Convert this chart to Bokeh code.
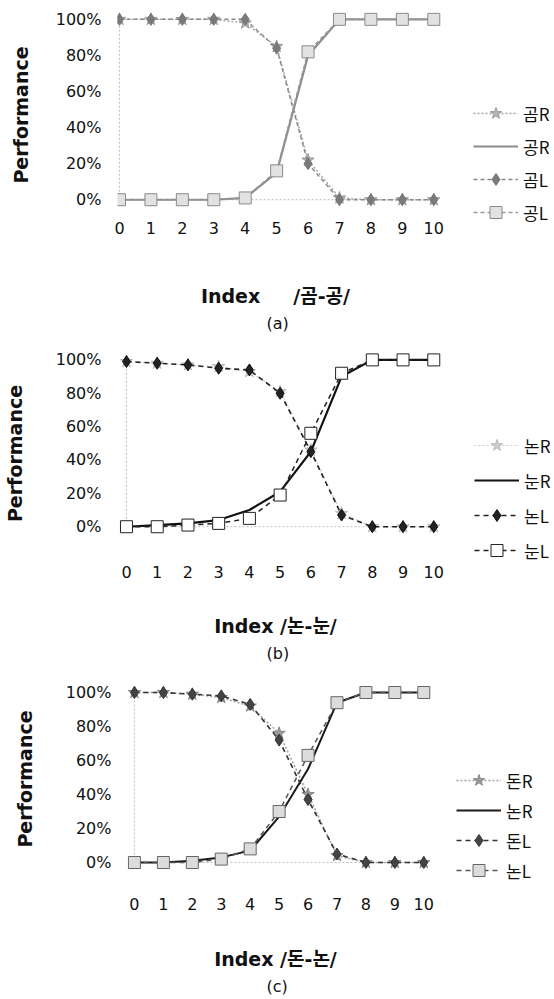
from bokeh.plotting import figure
from bokeh.models import Range1d, FixedTicker, NumeralTickFormatter, Legend, LegendItem, Title
from bokeh.layouts import column
from bokeh.embed import file_html
from bokeh.resources import INLINE

# ---------------- data ----------------
INDEX = list(range(11))
Y_TICKS = [0, 0.2, 0.4, 0.6, 0.8, 1.0]

# panel (a) /곰-공/
A_LABELS = ["곰R", "공R", "곰L", "공L"]
A_GOM_R = [100, 100, 100, 100, 98, 85, 22, 1, 0, 0, 0]
A_GONG_R = [0, 0, 0, 0, 1, 15, 80, 100, 100, 100, 100]
A_GOM_L = [100, 100, 100, 100, 100, 84, 20, 0, 0, 0, 0]
A_GONG_L = [0, 0, 0, 0, 1, 16, 82, 100, 100, 100, 100]

# panel (b) /논-눈/
B_LABELS = ["논R", "눈R", "논L", "눈L"]
B_NON_R = [99, 98, 97, 96, 93, 81, 46, 8, 0, 0, 0]
B_NUN_R = [0, 1, 2, 4, 10, 21, 45, 90, 100, 100, 100]
B_NON_L = [99, 98, 97, 95, 94, 80, 45, 7, 0, 0, 0]
B_NUN_L = [0, 0, 1, 2, 5, 19, 56, 92, 100, 100, 100]

# panel (c) /돈-논/
C_LABELS = ["돈R", "논R", "돈L", "논L"]
C_DON_R = [100, 100, 99, 97, 92, 76, 40, 4, 0, 0, 0]
C_NON_R = [0, 0, 1, 3, 7, 27, 55, 94, 100, 100, 100]
C_DON_L = [100, 100, 99, 98, 93, 72, 37, 5, 0, 0, 0]
C_NON_L = [0, 0, 0, 2, 8, 30, 63, 94, 100, 100, 100]

TITLES = ["Index\u00a0\u00a0\u00a0\u00a0 /곰-공/", "Index /논-눈/", "Index /돈-논/"]
SUBS = ["(a)", "(b)", "(c)"]

FONT = "'DejaVu Sans', 'Noto Sans CJK KR'"
KFONT = "'Noto Sans CJK KR', 'DejaVu Sans'"
PAD = "\u00a0" * 18   # shifts the centred x title left (frame also hosts the legend)

# ---------------- styles / layout ----------------
STYLES = {
    "a": [
        dict(marker="star", line_color="#a8a8a8", dash="2 2", lw=1.5, fill="#b5b5b5", mline="#999999"),
        dict(marker=None, line_color="#8c8c8c", dash="solid", lw=2.2, fill=None, mline=None),
        dict(marker="diamond", line_color="#8a8a8a", dash="4 3", lw=1.5, fill="#7a7a7a", mline="#777777"),
        dict(marker="square", line_color="#999999", dash="4 3", lw=1.5, fill="#e2e2e2", mline="#8a8a8a"),
    ],
    "b": [
        dict(marker="star", line_color="#cfcfcf", dash="2 2", lw=1.2, fill="#cccccc", mline="#bbbbbb"),
        dict(marker=None, line_color="#111111", dash="solid", lw=2.2, fill=None, mline=None),
        dict(marker="diamond", line_color="#222222", dash="5 4", lw=1.6, fill="#222222", mline="#111111"),
        dict(marker="square", line_color="#222222", dash="5 4", lw=1.5, fill="#ffffff", mline="#222222"),
    ],
    "c": [
        dict(marker="star", line_color="#a0a0a0", dash="2 2", lw=1.5, fill="#9a9a9a", mline="#888888"),
        dict(marker=None, line_color="#1a1a1a", dash="solid", lw=2.0, fill=None, mline=None),
        dict(marker="diamond", line_color="#333333", dash="5 4", lw=1.6, fill="#444444", mline="#333333"),
        dict(marker="square", line_color="#555555", dash="5 4", lw=1.5, fill="#dcdcdc", mline="#666666"),
    ],
}

L_ALL, R_ALL = 116, 552
LAYOUT = {
    "a": dict(h=335, T=5, B=226, X0=118, X10=433, Y100=19, Y0=201, xts=-3, yts=16, yls=21, xls=48,
              leg_x=472, leg_top=100, sp=3),
    "b": dict(h=330, T=5, B=238, X0=125, X10=433, Y100=25, Y0=197, xts=-1, yls=27, yts=16, xls=34,
              leg_x=473, leg_top=102, sp=5),
    "c": dict(h=334, T=5, B=222, X0=133, X10=423, Y100=27, Y0=197, xts=10, yts=6, yls=27, xls=35,
              leg_x=455, leg_top=100, sp=0),
}
SUB_CENTER = 276


def make_panel(key, series, labels, title, sub):
    g = LAYOUT[key]
    W = 554
    L, R = L_ALL, R_ALL
    ux = (g["X10"] - g["X0"]) / 10.0
    xa = INDEX[0] - (g["X0"] - L) / ux
    xb = INDEX[-1] + (R - g["X10"]) / ux
    uy = float(g["Y0"] - g["Y100"])
    yd = 1 + (g["Y100"] - g["T"]) / uy
    yc = -(g["B"] - g["Y0"]) / uy

    p = figure(width=W, height=g["h"], x_range=Range1d(xa, xb), y_range=Range1d(yc, yd),
               output_backend="svg", toolbar_location=None,
               min_border_left=L, min_border_right=W - R,
               min_border_top=g["T"], min_border_bottom=g["h"] - g["B"])
    p.outline_line_color = None
    p.xgrid.visible = False
    p.ygrid.visible = False
    p.background_fill_color = "white"

    # axis lines (light dotted, Excel-like)
    p.segment(x0=[INDEX[0]], y0=[Y_TICKS[0]], x1=[INDEX[0]], y1=[Y_TICKS[-1]],
              line_color="#bdbdbd", line_dash="2 2", line_width=1)
    p.segment(x0=[INDEX[0]], y0=[Y_TICKS[0]], x1=[INDEX[-1]], y1=[Y_TICKS[0]],
              line_color="#bdbdbd", line_dash="2 2", line_width=1)

    items = []
    for vals, lab, st in zip(series, labels, STYLES[key]):
        ys = [v / 100.0 for v in vals]
        rs = []
        ln = p.line(INDEX, ys, line_color=st["line_color"], line_dash=st["dash"], line_width=st["lw"])
        rs.append(ln)
        if st["marker"]:
            sc = p.scatter(INDEX, ys, marker=st["marker"], size=12 if st["marker"] != "star" else 13,
                           fill_color=st["fill"], line_color=st["mline"], line_width=1)
            rs.append(sc)
        items.append(LegendItem(label=lab, renderers=rs))

    # axes
    p.xaxis.ticker = FixedTicker(ticks=INDEX)
    p.yaxis.ticker = FixedTicker(ticks=Y_TICKS)
    p.yaxis.formatter = NumeralTickFormatter(format="0%")
    for ax in (p.xaxis[0], p.yaxis[0]):
        ax.axis_line_color = None
        ax.major_tick_line_color = None
        ax.minor_tick_line_color = None
        ax.major_tick_out = 0
        ax.major_tick_in = 0
        ax.major_label_text_font = FONT
        ax.major_label_text_font_size = "16px"
        ax.major_label_text_color = "#111111"
        ax.axis_label_text_font = FONT
        ax.axis_label_text_font_size = "19px"
        ax.axis_label_text_font_style = "bold"
        ax.axis_label_text_color = "#111111"
    p.xaxis.major_label_standoff = g["xts"]
    p.yaxis.major_label_standoff = g["yts"]
    p.yaxis.axis_label = "Performance"
    p.yaxis.axis_label_standoff = g["yls"]
    p.xaxis.axis_label = title + PAD
    p.xaxis.axis_label_standoff = g["xls"]

    p.add_layout(Title(text=sub, align="left", offset=SUB_CENTER - 11 - L, text_font=FONT,
                       text_font_size="16px", text_font_style="normal", text_color="#111111",
                       standoff=5), "below")

    n = len(items)
    leg_h = n * 30 + (n - 1) * g["sp"]
    loc_x = g["leg_x"] - L
    loc_y = g["B"] - (g["leg_top"] + leg_h)
    legend = Legend(items=items, location=(loc_x, loc_y), orientation="vertical",
                    border_line_color=None, background_fill_alpha=0, padding=0, margin=0,
                    spacing=g["sp"], glyph_width=45, glyph_height=30, label_height=30,
                    label_standoff=5, label_text_font=KFONT, label_text_font_size="17px",
                    label_text_color="#111111")
    p.add_layout(legend, "center")
    return p


pa = make_panel("a", [A_GOM_R, A_GONG_R, A_GOM_L, A_GONG_L], A_LABELS, TITLES[0], SUBS[0])
pb = make_panel("b", [B_NON_R, B_NUN_R, B_NON_L, B_NUN_L], B_LABELS, TITLES[1], SUBS[1])
pc = make_panel("c", [C_DON_R, C_NON_R, C_DON_L, C_NON_L], C_LABELS, TITLES[2], SUBS[2])

layout = column(pa, pb, pc, spacing=0)
open("out.html", "w").write(file_html(layout, INLINE))
